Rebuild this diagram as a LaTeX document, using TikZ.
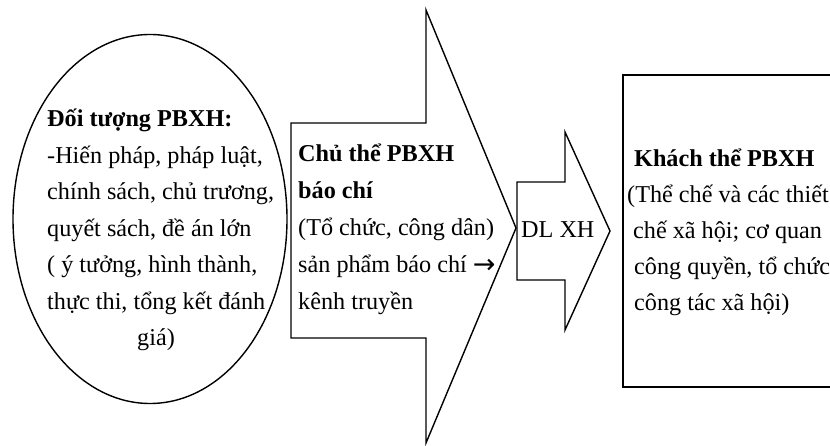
\documentclass[tikz,border=0pt]{standalone}
\usepackage{fontspec}
\setmainfont{Liberation Serif}
\newfontfamily\arrowfont{DejaVu Sans}
\usetikzlibrary{shapes.geometric}
\begin{document}
\begin{tikzpicture}[x=1pt,y=-1pt,
  outline/.style={draw=black, line width=1.4pt, line join=miter},
  txt/.style={inner sep=0pt, align=left, anchor=west, font=\fontsize{24.2}{36.5}\selectfont},
]
\useasboundingbox (0,0) rectangle (830,446);
% ellipse (object)
\node[ellipse, outline, minimum width=274pt, minimum height=369pt, inner sep=0pt] (obj) at (150,219) {};
% big arrow (subject)
\draw[outline] (291,123) -- (426,123) -- (426,10) -- (516,228) -- (426,443) -- (426,338) -- (291,338) -- cycle;
% small arrow (DL XH)
\draw[outline] (517,182) -- (565,182) -- (565,132) -- (610,231) -- (565,330) -- (565,280) -- (517,280) -- cycle;
% rectangle (Khach the)
\draw[outline, line width=1.8pt] (832,75) -- (623,75) -- (623,387) -- (832,387);
% texts
\node[txt] (objtext) at (47,230) {\textbf{Đối tượng PBXH:}\\-Hiến pháp, pháp luật,\\chính sách, chủ trương,\\quyết sách, đề án lớn\\( ý tưởng, hình thành,\\thực thi, tổng kết đánh\\\hspace*{90pt}giá)};
\node[txt, font=\fontsize{24.2}{37}\selectfont] (subj) at (298,229) {\textbf{Chủ thể PBXH}\\\textbf{báo chí}\\(Tổ chức, công dân)\\sản phẩm báo chí {\arrowfont\fontsize{27}{27}\selectfont\raisebox{-1pt}{→}}\\kênh truyền};
\node[txt] (dl) at (521,230) {DL XH};
\node[txt, font=\fontsize{24.2}{36}\selectfont] (kt) at (627,232) {\hspace*{7pt}\textbf{Khách thể PBXH}\\(Thể chế và các thiết\\\hspace*{6pt}chế xã hội; cơ quan\\\hspace*{7pt}công quyền, tổ chức\\\hspace*{7pt}công tác xã hội)};
\end{tikzpicture}
\end{document}
